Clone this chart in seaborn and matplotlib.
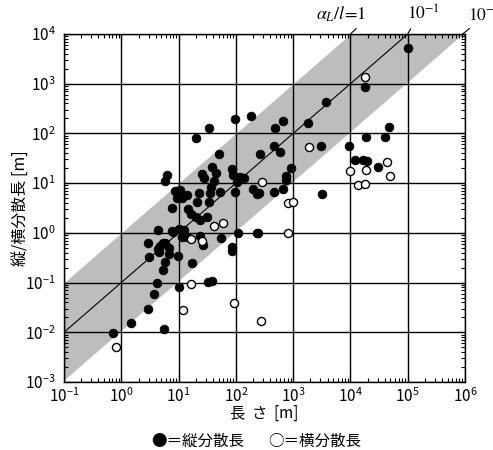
import matplotlib
matplotlib.use("Agg")
import numpy as np
import pandas as pd
import matplotlib.pyplot as plt
import seaborn as sns
from matplotlib.ticker import LogLocator, NullFormatter, LogFormatterMathtext

# ---------------- data ----------------
# filled circles: longitudinal dispersivity  (length [m], dispersivity [m])
long_len = [1.0e5, 17800, 3720, 1820, 661, 479, 182, 95.5, 33.9, 20.0,
            46800, 18600, 39800, 457, 589, 263, 3090, 9330, 12000, 16600,
            19500, 30200, 912, 741, 741, 200, 234, 457, 661, 3160,
            234, 51.3, 6.31, 5.75, 38.0, 44.7, 25.7, 27.5, 85.1, 89.1,
            117, 138, 41.7, 105, 37.2, 52.5, 95.5, 251, 8.71, 9.33,
            11.5, 22.9, 20.9, 33.9, 7.59, 14.5, 16.6, 20.0, 31.6, 23.4,
            4.37, 7.59, 10.2, 12.3, 14.1, 11.5, 23.4, 26.9, 55.0, 110,
            245, 85.1, 85.1, 2.95, 4.79, 4.37, 5.75, 6.76, 3.02, 9.77,
            4.57, 6.76, 5.75, 5.37, 17.0, 0.72, 1.48, 2.95, 3.72, 4.17,
            5.62, 10.2, 38.0, 33.1, 14.1, 35.5, 7.9, 12.0, 5.4, 10.5]
long_disp = [5200, 851, 427, 162, 178, 129, 224, 195, 129, 81.3,
             135, 85.1, 85.1, 56.2, 42.7, 38.9, 56.2, 56.2, 28.8, 28.8,
             27.5, 20.9, 20.0, 13.8, 11.5, 7.59, 6.03, 6.61, 7.59, 6.03,
             1.0, 38.9, 14.5, 11.0, 20.9, 15.8, 15.1, 12.6, 19.1, 14.5,
             13.2, 12.6, 11.0, 10.5, 8.32, 6.61, 6.61, 6.31, 6.92, 5.01,
             5.01, 6.31, 4.17, 4.17, 3.16, 3.02, 2.40, 2.09, 2.09, 1.82,
             1.15, 1.10, 1.20, 1.15, 0.83, 0.83, 0.87, 0.56, 0.79, 1.0,
             1.0, 0.51, 0.43, 0.62, 0.54, 0.47, 0.62, 0.49, 0.32, 0.35,
             0.41, 0.37, 0.26, 0.18, 0.25, 0.0095, 0.0155, 0.0295, 0.059, 0.098,
             0.0115, 0.081, 0.107, 0.102, 5.75, 6.31, 1.05, 1.0, 0.62, 7.2]

# open circles: transverse dispersivity
trans_len = [17800, 1910, 43700, 9770, 18600, 49000, 13500, 17800, 288, 813,
             1000, 813, 275, 0.81, 16.6, 12.0, 93.3, 41.7, 60.3, 16.6, 25.7]
trans_disp = [1350, 53.7, 26.3, 17.4, 18.2, 13.8, 9.12, 9.55, 10.5, 3.98,
              4.17, 1.0, 0.017, 0.005, 0.093, 0.028, 0.039, 1.38, 1.58, 0.76, 0.69]

# band / reference line  (alpha_L / l ratios)
band_upper_ratio = 1.0
band_lower_ratio = 0.011
line_ratio = 0.1
band_x = [0.1, 1.0e6]
line_x = [0.1, 1.0e5]

label_upper = r"$\alpha_L/l\!=\!1$"
label_line = r"$10^{-1}$"
label_lower = r"$10^{-2}$"

xlabel = "長  さ  [m]"
ylabel = "縦/横分散長 [m]"
legend_filled = "●＝縦分散長"
legend_open = "○＝横分散長"

# ---------------- style ----------------
sns.set_theme(style="white")
plt.rcParams["font.family"] = ["Noto Sans CJK JP", "DejaVu Sans"]
plt.rcParams["mathtext.fontset"] = "stix"
for k in ["text.color", "axes.labelcolor", "xtick.color", "ytick.color", "axes.edgecolor"]:
    plt.rcParams[k] = "black"

fig = plt.figure(figsize=(4.93, 4.5), dpi=100)
ax = fig.add_axes([64 / 493, 1 - 382 / 450, 401 / 493, 348 / 450])

ax.set_xscale("log")
ax.set_yscale("log")
ax.set_xlim(1e-1, 1e6)
ax.set_ylim(1e-3, 1e4)

# shaded band
bx = np.array(band_x)
ax.fill_between(bx, bx * band_lower_ratio, bx * band_upper_ratio,
                color="#bdbdbd", lw=0, zorder=1)
lx = np.array(line_x)
ax.plot(lx, lx * line_ratio, color="black", lw=0.8, zorder=2)

# grid
ax.set_axisbelow("line")
ax.grid(which="major", color="black", lw=1.0)
ax.grid(which="minor", visible=False)

# points
df_l = pd.DataFrame({"len": long_len, "disp": long_disp})
df_t = pd.DataFrame({"len": trans_len, "disp": trans_disp})
sns.scatterplot(data=df_l, x="len", y="disp", ax=ax, color="black",
                edgecolor="black", s=40, linewidth=0.5, zorder=3, legend=False)
sns.scatterplot(data=df_t, x="len", y="disp", ax=ax, facecolor="white",
                edgecolor="black", s=34, linewidth=1.0, zorder=3, legend=False)

# ticks
for axis in (ax.xaxis, ax.yaxis):
    axis.set_major_locator(LogLocator(base=10, numticks=15))
    axis.set_minor_locator(LogLocator(base=10, subs=np.arange(2, 10), numticks=15))
    axis.set_minor_formatter(NullFormatter())
    axis.set_major_formatter(LogFormatterMathtext())
ax.tick_params(which="both", direction="in", top=True, right=True,
               bottom=True, left=True, width=0.8, labelsize=11)
ax.tick_params(which="major", length=5)
ax.tick_params(which="minor", length=3)
ax.tick_params(axis="x", pad=4)
ax.tick_params(axis="y", pad=6)
for s in ax.spines.values():
    s.set_color("black")
    s.set_linewidth(1.0)

ax.set_xlabel(xlabel, fontsize=11, labelpad=-1)
ax.set_ylabel(ylabel, fontsize=11.5, labelpad=-3)

# band labels with leader lines
top = 1e4
ax.annotate(label_upper, xy=(top / band_upper_ratio, top), xytext=(-7, 7),
            textcoords="offset points", ha="center", va="bottom", fontsize=13,
            annotation_clip=False,
            arrowprops=dict(arrowstyle="-", lw=0.8, color="black",
                            relpos=(0.9, 0.0), shrinkA=1, shrinkB=0))
ax.annotate(label_line, xy=(top / line_ratio, top), xytext=(11, 7),
            textcoords="offset points", ha="center", va="bottom", fontsize=12.5,
            annotation_clip=False,
            arrowprops=dict(arrowstyle="-", lw=0.8, color="black",
                            relpos=(0.2, 0.0), shrinkA=1, shrinkB=0))
ax.annotate(label_lower, xy=(top / band_lower_ratio, top), xytext=(16, 7),
            textcoords="offset points", ha="center", va="bottom", fontsize=12.5,
            annotation_clip=False,
            arrowprops=dict(arrowstyle="-", lw=0.8, color="black",
                            relpos=(0.2, 0.0), shrinkA=1, shrinkB=0))

# legend text
fig.text(198 / 493, 1 - 441 / 450, legend_filled, ha="center", va="center", fontsize=11.2)
fig.text(315 / 493, 1 - 441 / 450, legend_open, ha="center", va="center", fontsize=11.2)

fig.savefig("out.png", dpi=100)
